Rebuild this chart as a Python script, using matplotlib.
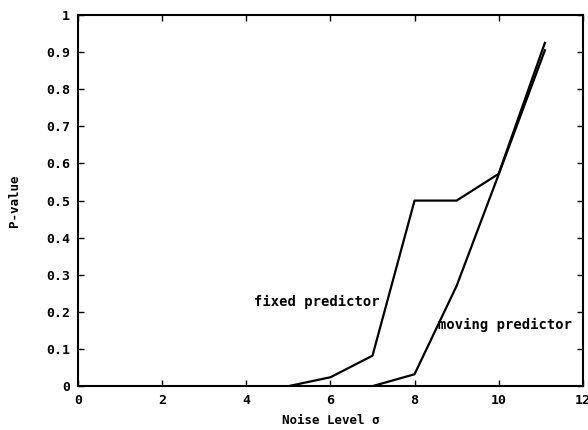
import matplotlib
matplotlib.use("Agg")
import matplotlib.pyplot as plt

# values
noise = [5, 6, 7, 8, 9, 10, 11.1]
fixed_p = [0.0, 0.024, 0.082, 0.50, 0.50, 0.572, 0.925]

noise_mov = [5, 7, 8, 9, 10, 11.1]
moving_p = [0.0, 0.0, 0.032, 0.27, 0.57, 0.905]

x_ticks = [0, 2, 4, 6, 8, 10, 12]
y_ticks = [0, 0.1, 0.2, 0.3, 0.4, 0.5, 0.6, 0.7, 0.8, 0.9, 1]
y_labels = ["0", "0.1", "0.2", "0.3", "0.4", "0.5", "0.6", "0.7", "0.8", "0.9", "1"]

plt.rcParams['font.family'] = ['DejaVu Sans Mono', 'DejaVu Sans']
plt.rcParams['font.weight'] = 'bold'

fig = plt.figure(figsize=(5.88, 4.30), dpi=100)
ax = fig.add_axes([0.133, 0.102, 0.858, 0.863])

ax.plot(noise, fixed_p, color='black', linewidth=1.6)
ax.plot(noise_mov, moving_p, color='black', linewidth=1.6)

ax.text(4.17, 0.228, "fixed predictor", fontsize=10, fontweight='bold', va='center')
ax.text(8.55, 0.165, "moving predictor", fontsize=10, fontweight='bold', va='center')

ax.set_xlim(0, 12)
ax.set_ylim(0, 1)
ax.set_xticks(x_ticks)
ax.set_yticks(y_ticks)
ax.set_yticklabels(y_labels)
ax.tick_params(direction='in', top=True, right=True, length=4, width=1,
               labelsize=9.5, pad=6)
for lab in ax.get_xticklabels() + ax.get_yticklabels():
    lab.set_fontweight('bold')
for s in ax.spines.values():
    s.set_linewidth(1.5)

ax.set_xlabel("Noise Level σ", fontsize=9, fontweight='bold', labelpad=5)
ax.set_ylabel("P-value", fontsize=9, fontweight='bold', labelpad=18)

fig.savefig("out.png", dpi=100)
